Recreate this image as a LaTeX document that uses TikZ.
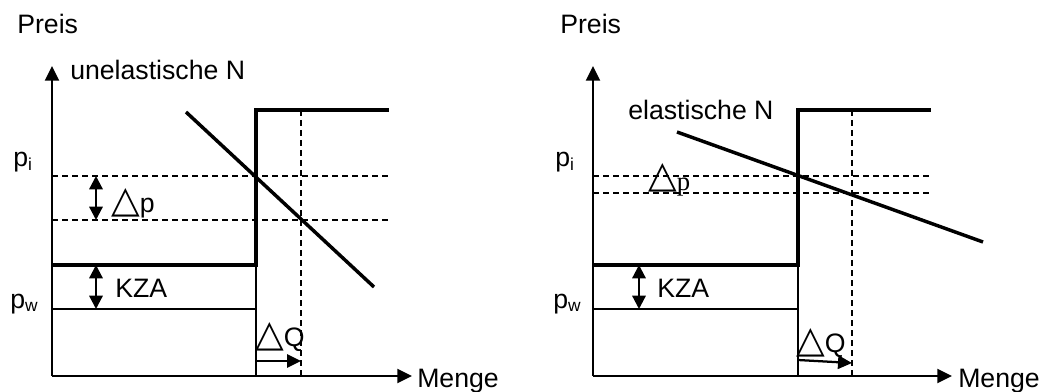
\documentclass[tikz,border=0pt]{standalone}
\usepackage{fontspec}
\setmainfont{Liberation Sans}
\newfontfamily\trifont{DejaVu Sans}
\newfontfamily\seriffont{Liberation Serif}
\usetikzlibrary{arrows.meta}
\newcommand{\tri}{{\trifont\fontsize{28}{30}\selectfont △}}
\newcommand{\subs}[1]{\raisebox{-2.6pt}{\fontsize{13}{13}\selectfont #1}}
\begin{document}
\begin{tikzpicture}[x={(0.75pt,0)},y={(0,-0.75pt)},
  txt/.style={anchor=base west,inner sep=0pt,font=\fontsize{20}{24}\selectfont},
  axisline/.style={line width=1.7pt,-{Triangle[length=11pt,width=10.5pt]}},
  thickline/.style={line width=2.8pt},
  thinline/.style={line width=1pt},
  dashline/.style={line width=1pt,dash pattern=on 4.5pt off 3pt},
  demand/.style={line width=2.6pt},
  dimarrow/.style={line width=1.7pt,{Triangle[length=10pt,width=10pt]}-{Triangle[length=10pt,width=10pt]}},
  qarrow/.style={line width=1.7pt,-{Triangle[length=10.5pt,width=10pt]}}]
\useasboundingbox (0,0) rectangle (1043,392);
% ---------- left panel ----------
\coordinate (Lo) at (52,376);
\coordinate (Ly) at (52,66);
\coordinate (Lx) at (412,376);
\coordinate (Lk1) at (52,265);
\coordinate (Lk2) at (256,265);
\coordinate (Lk3) at (256,110);
\coordinate (Lk4) at (389,110);
\coordinate (Lw1) at (52,309);
\coordinate (Lw2) at (256,309);
\coordinate (Lq0) at (256,376);
\coordinate (Lv1) at (301,110);
\coordinate (Lv2) at (301,376);
\coordinate (Lh1a) at (52,176);
\coordinate (Lh1b) at (390,176);
\coordinate (Lh2a) at (52,220);
\coordinate (Lh2b) at (390,220);
\coordinate (Ld1) at (186,112);
\coordinate (Ld2) at (374,287);
\coordinate (Lpa) at (96,176);
\coordinate (Lpb) at (96,220);
\coordinate (Lka) at (96,265);
\coordinate (Lkb) at (96,309);
\coordinate (Lqa) at (256,361);
\coordinate (Lqb) at (301,361);

\draw[dashline] (Lh1a) -- (Lh1b);
\draw[dashline] (Lh2a) -- (Lh2b);
\draw[dashline] (Lv1) -- (Lv2);
\draw[thinline] (Lw1) -- (Lw2);
\draw[thinline] (Lk2) -- (Lq0);
\draw[thickline] (Lk1) -- (Lk2) -- (Lk3) -- (Lk4);
\draw[demand] (Ld1) -- (Ld2);
\draw[axisline] (Lo) -- (Ly);
\draw[axisline] (Lo) -- (Lx);
\draw[dimarrow] (Lpa) -- (Lpb);
\draw[dimarrow] (Lka) -- (Lkb);
\draw[qarrow] (Lqa) -- (Lqb);

\node[txt] (Lpreis) at (17,34) {Preis};
\node[txt] (Lun) at (70,80) {unelastische N};
\node[txt] (Lpi) at (13,167) {p\subs{i}};
\node[txt] (Lpw) at (10,308) {p\subs{w}};
\node[txt] (Ldp) at (111,213) {\tri p};
\node[txt] (Lkza) at (115,297) {KZA};
\node[txt] (Ldq) at (255,346) {\tri Q};
\node[txt] (Lmenge) at (417,387) {Menge};

% ---------- right panel ----------
\coordinate (Ro) at (593,376);
\coordinate (Ry) at (593,66);
\coordinate (Rx) at (952,376);
\coordinate (Rk1) at (593,265);
\coordinate (Rk2) at (798,265);
\coordinate (Rk3) at (798,110);
\coordinate (Rk4) at (931,110);
\coordinate (Rw1) at (593,309);
\coordinate (Rw2) at (798,309);
\coordinate (Rq0) at (798,376);
\coordinate (Rv1) at (852,110);
\coordinate (Rv2) at (852,376);
\coordinate (Rh1a) at (593,176);
\coordinate (Rh1b) at (932,176);
\coordinate (Rh2a) at (593,193);
\coordinate (Rh2b) at (932,193);
\coordinate (Rd1) at (677,132);
\coordinate (Rd2) at (983,242);
\coordinate (Rka) at (639,265);
\coordinate (Rkb) at (639,309);
\coordinate (Rqa) at (798,360);
\coordinate (Rqb) at (852,363);

\draw[dashline] (Rh1a) -- (Rh1b);
\draw[dashline] (Rh2a) -- (Rh2b);
\draw[dashline] (Rv1) -- (Rv2);
\draw[thinline] (Rw1) -- (Rw2);
\draw[thinline] (Rk2) -- (Rq0);
\draw[thickline] (Rk1) -- (Rk2) -- (Rk3) -- (Rk4);
\draw[demand] (Rd1) -- (Rd2);
\draw[axisline] (Ro) -- (Ry);
\draw[axisline] (Ro) -- (Rx);
\draw[dimarrow] (Rka) -- (Rkb);
\draw[qarrow] (Rqa) -- (Rqb);

\node[txt] (Rpreis) at (560,34) {Preis};
\node[txt] (Rel) at (628,120) {elastische N};
\node[txt] (Rpi) at (555,167) {p\subs{i}};
\node[txt] (Rpw) at (553,308) {p\subs{w}};
\node[txt] (Rdp) at (648,188) {\tri\raisebox{-2pt}{\seriffont p}};
\node[txt] (Rkza) at (657,297) {KZA};
\node[txt] (Rdq) at (796,352) {\tri Q};
\node[txt] (Rmenge) at (958,387) {Menge};
\end{tikzpicture}
\end{document}
